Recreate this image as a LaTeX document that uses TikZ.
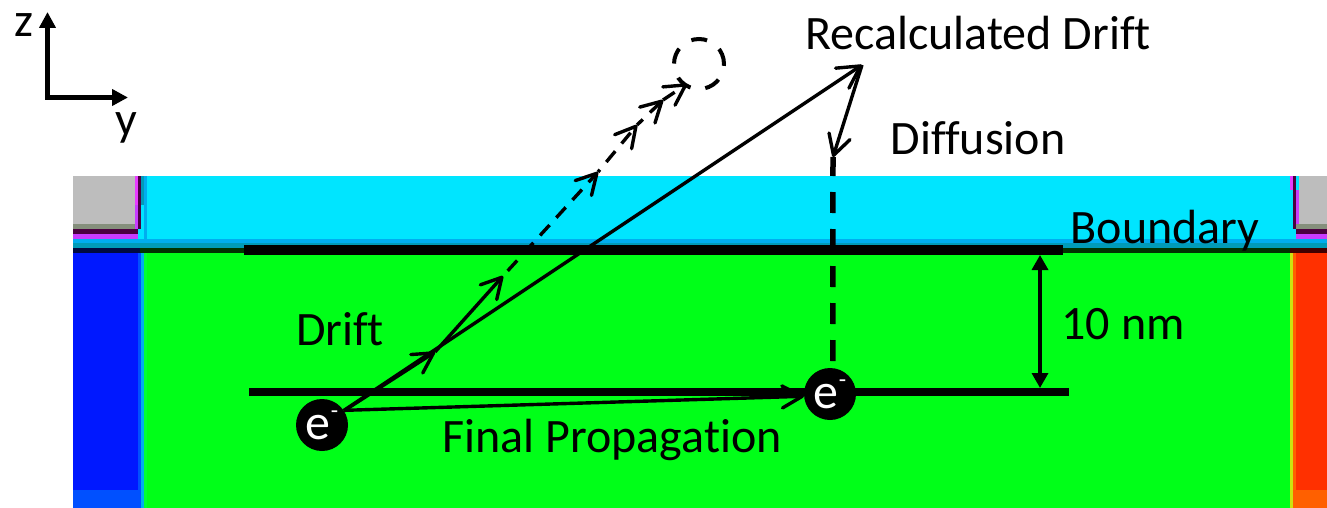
\documentclass[tikz,border=0pt]{standalone}
\usepackage{fontspec}
\setmainfont[Ligatures=NoCommon,Contextuals=NoAlternate]{Carlito}
\usetikzlibrary{arrows.meta}
\definecolor{cyanbox}{HTML}{00E5FF}
\definecolor{greenbox}{HTML}{00FF18}
\definecolor{bluebox}{HTML}{0018FF}
\definecolor{bluelow}{HTML}{0050FF}
\definecolor{redbox}{HTML}{FF3000}
\definecolor{redlow}{HTML}{FF6000}
\definecolor{greybox}{HTML}{BDBDBD}
\definecolor{greylow}{HTML}{858F7C}
\definecolor{magbox}{HTML}{C83CFF}
\definecolor{magtop}{HTML}{E83CFF}
\definecolor{purpledark}{HTML}{4A0040}
\definecolor{tealband}{HTML}{009BB8}
\definecolor{navyband}{HTML}{000A40}
\definecolor{greenband}{HTML}{003300}
\definecolor{redband}{HTML}{400000}
\newcommand{\electronmark}{e\raisebox{0.42em}{\fontsize{24}{24}\selectfont -}}
\begin{document}
\begin{tikzpicture}[x=1pt,y=-1pt,>=Stealth,
    label/.style={font=\fontsize{48}{48}\selectfont,inner sep=0pt},
    electron/.style={circle,fill=black,text=white,minimum size=52pt,inner sep=0pt,font=\fontsize{50}{50}\selectfont},
    barb/.style={-{Straight Barb[length=20pt,width=22pt,round]},line width=3.4pt},
    ghostline/.style={dash pattern=on 14pt off 10pt}]
  \useasboundingbox (0,0) rectangle (1327,508);
  \fill[white] (0,0) rectangle (1327,508);
  % device regions
  \fill[cyanbox] (73,176) rectangle (1327,245);
  \fill[greenbox] (147,253) rectangle (1290,508);
  \fill[bluebox] (73,253) rectangle (138,508);
  \fill[bluelow] (73,490) rectangle (138,508);
  \fill[bluelow] (138,253) rectangle (141,508);
  \fill[cyan] (141,253) rectangle (144,508);
  \fill[green!80!cyan] (144,253) rectangle (147,508);
  \fill[redbox] (1296,253) rectangle (1327,508);
  \fill[redlow] (1296,490) rectangle (1327,508);
  \fill[yellow!80!green] (1290,253) rectangle (1293,508);
  \fill[redlow] (1293,253) rectangle (1296,508);
  % corner contacts
  \fill[greybox] (73,176) rectangle (135,224);
  \fill[greylow] (73,224) rectangle (135,229);
  \fill[purpledark] (73,229) rectangle (138,234);
  \fill[magbox] (73,234) rectangle (138,239);
  \fill[magtop] (135,176) rectangle (138,205);
  \fill[purpledark] (138,176) rectangle (141,229);
  \fill[magbox] (135,205) rectangle (138,229);
  \fill[tealband] (141,176) rectangle (144,205);
  \fill[cyan] (144,176) rectangle (147,245);
  \fill[greybox] (1299,176) rectangle (1327,224);
  \fill[greylow] (1296,224) rectangle (1327,229);
  \fill[purpledark] (1296,229) rectangle (1327,234);
  \fill[magbox] (1296,234) rectangle (1327,239);
  \fill[magtop] (1290,176) rectangle (1293,190);
  \fill[purpledark] (1293,176) rectangle (1296,229);
  \fill[magbox] (1296,190) rectangle (1299,224);
  \fill[cyan] (73,239) rectangle (1327,243);
  \fill[tealband] (73,243) rectangle (1327,248);
  \fill[navyband] (73,248) rectangle (140,253);
  \fill[greenband] (140,248) rectangle (1290,253);
  \fill[redband] (1290,248) rectangle (1327,253);
  % layers
  \coordinate (boundaryL) at (244,250);
  \coordinate (boundaryR) at (1063,250);
  \coordinate (layerL) at (249,392);
  \coordinate (layerR) at (1069,392);
  \draw[line width=10pt] (boundaryL) -- (boundaryR);
  \draw[line width=8pt] (layerL) -- (layerR);
  \coordinate (gapT) at (1040,255);
  \coordinate (gapB) at (1040,388);
  \draw[{Triangle[length=15pt,width=16pt]}-{Triangle[length=15pt,width=16pt]},line width=3.4pt] (gapT) -- (gapB);
  % axes
  \coordinate (axO) at (47.5,97.5);
  \coordinate (axZ) at (47.5,12);
  \coordinate (axY) at (128,97.5);
  \draw[{Triangle[length=16pt,width=16pt]}-{Triangle[length=16pt,width=16pt]},line width=5pt,line join=miter] (axZ) -- (axO) -- (axY);
  \node[label] (labZ) at (24,25) {z};
  \node[label] (labY) at (126,128) {y};
  % electrons and ghost
  \node[electron] (eStart) at (322,425) {\electronmark};
  \node[electron] (eEnd) at (830,394) {\electronmark};
  \node[circle,draw,line width=4pt,dash pattern=on 16pt off 15pt,minimum size=50pt,inner sep=0pt] (ghost) at (699,64) {};
  \coordinate (peak) at (862,65);
  \coordinate (kink) at (833,157);
  \coordinate (d1) at (435,352);
  \coordinate (d2) at (503,276);
  \coordinate (d3) at (598,172);
  \coordinate (d4) at (637,125);
  \coordinate (d5) at (663,100);
  \coordinate (d6) at (687,84);
  % paths
  \draw[barb,-{Straight Barb[length=22pt,width=24pt,round]}] (eStart) -- (peak);
  \draw[barb] (eStart) -- (d1);
  \draw[barb] (d1) -- (d2);
  \draw[barb,ghostline,dash phase=17pt] (d2) -- (d3);
  \draw[barb,ghostline,dash phase=11pt] (d3) -- (d4);
  \draw[barb,ghostline,dash phase=6pt] (d4) -- (d5);
  \draw[barb,ghostline] (d5) -- (d6);
  \draw[barb] (peak) -- (kink);
  \draw[line width=5.5pt,dash pattern=on 21pt off 16pt,dash phase=2pt] (kink) -- (eEnd.84);
  \draw[barb] (eStart.34) -- (eEnd.185);
  % labels
  \node[label] (labRecalc) at (978,33) {Recalculated Drift};
  \node[label] (labDiff) at (978,138) {Diffusion};
  \node[label] (labBound) at (1165,231) {Boundary};
  \node[label] (labDrift) at (340,329) {Drift};
  \node[label] (labGap) at (1123,324) {10 nm};
  \node[label] (labFinal) at (612,440) {Final Propagation};
\end{tikzpicture}
\end{document}
